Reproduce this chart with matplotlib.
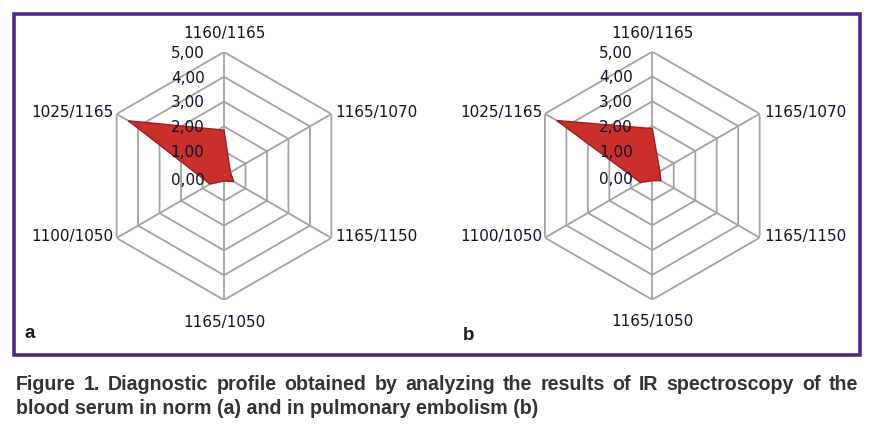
import numpy as np
import matplotlib
matplotlib.use("Agg")
import matplotlib.pyplot as plt
from matplotlib.patches import Rectangle

categories = ["1160/1165", "1165/1070", "1165/1150", "1165/1050", "1100/1050", "1025/1165"]
values_norm = [1.85, 0.30, 0.45, 0.20, 0.65, 4.45]
values_pe = [1.90, 0.35, 0.40, 0.20, 0.55, 4.45]
ticks = [0, 1, 2, 3, 4, 5]
tick_labels = ["0,00", "1,00", "2,00", "3,00", "4,00", "5,00"]
panel_letters = ["a", "b"]
caption_1 = "Figure 1. Diagnostic profile obtained by analyzing the results of IR spectroscopy of the"
caption_2 = "blood serum in norm (a) and in pulmonary embolism (b)"

W, H = 872, 434
fig = plt.figure(figsize=(W / 100, H / 100), dpi=100)

# purple frame
fig.patches.append(Rectangle((13.5 / W, 1 - 354.5 / H), (859.5 - 13.5) / W, (354.5 - 14) / H,
                             transform=fig.transFigure, fill=False, edgecolor="#4E2A84",
                             linewidth=2.6, zorder=0))

label_font = dict(family="DejaVu Sans", fontsize=11, color="#10102a")
N = len(categories)
angles = np.arange(N) * 2 * np.pi / N


def radar(cx, cy, vals, letter, lx, ly):
    R = 124
    ax = fig.add_axes([(cx - R) / W, 1 - (cy + R) / H, 2 * R / W, 2 * R / H], projection="polar")
    ax.set_theta_zero_location("N")
    ax.set_theta_direction(-1)
    ax.set_ylim(0, 5)
    ax.grid(False)
    ax.set_xticks([])
    ax.set_yticks([])
    ax.spines["polar"].set_visible(False)
    ax.patch.set_visible(False)
    closed = np.append(angles, angles[0])
    for t in ticks[1:]:
        ax.plot(closed, [t] * (N + 1), color="#a3a3a3", lw=1.3, zorder=1)
    for a in angles:
        ax.plot([a, a], [0, 5], color="#a3a3a3", lw=1.3, zorder=1)
    v = np.append(vals, vals[0])
    ax.fill(closed, v, facecolor="#C9302C", edgecolor="#9A1E1E", lw=1.0, zorder=3)
    for t, tl in zip(ticks, tick_labels):
        ax.annotate(tl, xy=(0, t), xytext=(-14, -1 if t else -3), textcoords="offset points",
                    ha="right", va="center", zorder=5, **label_font)
    for a, c in zip(angles, categories):
        s, co = np.sin(a), np.cos(a)
        if abs(s) < 1e-6:
            ha, off = "center", (0, 13 if co > 0 else -16)
        elif s > 0:
            ha, off = "left", (3, 1)
        else:
            ha, off = "right", (-2, 1)
        ax.annotate(c, xy=(a, 5), xytext=off, textcoords="offset points",
                    ha=ha, va="center", annotation_clip=False, **label_font)
    fig.text(lx / W, 1 - ly / H, letter, fontsize=13.5, fontweight="bold",
             family="Liberation Sans", color="#1a1a1a", ha="center", va="center")


radar(224, 176, values_norm, panel_letters[0], 30, 334)
radar(652.3, 175.7, values_pe, panel_letters[1], 469, 335)

cap_font = dict(family="Liberation Sans", fontweight="bold",
                fontsize=14.1, color="#333333", ha="left", va="center")

# first line justified between x=16 and x=858
renderer = fig.canvas.get_renderer()
words = caption_1.split(" ")
texts = [fig.text(0, 1 - 385 / H, w, **cap_font) for w in words]
widths = [t.get_window_extent(renderer).width for t in texts]
gap = (858 - 16 - sum(widths)) / (len(words) - 1)
x = 16.0
for t, w in zip(texts, widths):
    t.set_x(x / W)
    x += w + gap
fig.text(16 / W, 1 - 409 / H, caption_2, **cap_font)

fig.savefig("out.png", dpi=100)
